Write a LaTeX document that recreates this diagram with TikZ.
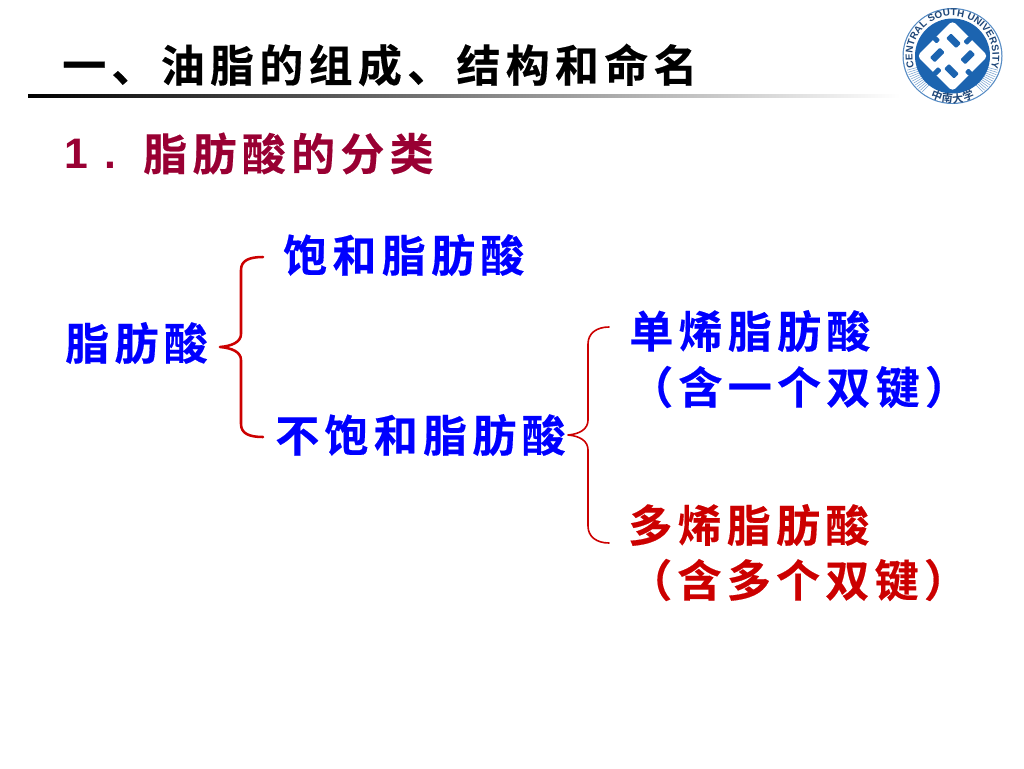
\documentclass[tikz,border=0pt]{standalone}
\usepackage{fontspec}
\usetikzlibrary{decorations.text,shadings}
\newfontfamily\cjkb[LetterSpace=12,FakeBold=0.35]{Noto Sans CJK SC Bold}
\newfontfamily\arialb{Liberation Sans Bold}
\newfontfamily\logof{Liberation Sans Bold}
\newfontfamily\logocjk{Noto Sans CJK SC Bold}
\definecolor{kblue}{RGB}{0,0,255}
\definecolor{kred}{RGB}{204,0,0}
\definecolor{kmaroon}{RGB}{153,0,51}
\definecolor{logoblue}{RGB}{28,100,176}
\definecolor{logoink}{RGB}{30,70,120}
\tikzset{
  x=0.75pt,y=-0.75pt,
  lbl/.style={inner sep=0pt,anchor=west,font=\cjkb\fontsize{33}{38}\selectfont},
  bluelbl/.style={lbl,text=kblue},
  redlbl/.style={lbl,text=kred},
  numlbl/.style={inner sep=0pt,anchor=base west,text=kmaroon,font=\arialb\fontsize{32}{36}\selectfont},
  brace/.style={draw=kred,line cap=round,line join=round},
  hole/.style={fill=logoblue,rounded corners=0.8pt},
}
\begin{document}
\begin{tikzpicture}
\useasboundingbox (0,0) rectangle (1024,768);
\fill[white] (0,0) rectangle (1024,768);
% rule
\shade[left color=black,right color=white] (28,94.5) rectangle (900,97.5);
% texts
\node[lbl,text=black] (title) at (62,65) {一、油脂的组成、结构和命名};
\node[numlbl] (num) at (64,168) {1};
\node[numlbl] (dot) at (104,168) {.};
\node[lbl,text=kmaroon] (sub) at (143,153.5) {脂肪酸的分类};
\node[bluelbl] (fa) at (65,343) {脂肪酸};
\node[bluelbl] (sat) at (283,255) {饱和脂肪酸};
\node[bluelbl] (unsat) at (275,435) {不饱和脂肪酸};
\node[bluelbl] (mono) at (629,331) {单烯脂肪酸};
\node[bluelbl] (monob) at (629,387) {（含一个双键）};
\node[redlbl] (poly) at (628,525) {多烯脂肪酸};
\node[redlbl] (polyb) at (628,580) {（含多个双键）};
% braces
\coordinate (b1tip) at (220,347);
\coordinate (b1top) at (263,257);
\coordinate (b1bot) at (263,437);
\draw[brace,line width=1.9pt] (b1top) .. controls (250,257) and (241,260) .. (241,270) -- (241,334)
  .. controls (241,342) and (232,346) .. (b1tip) .. controls (232,348) and (241,352) .. (241,360)
  -- (241,424) .. controls (241,434) and (250,437) .. (b1bot);
\coordinate (b2tip) at (568,435);
\coordinate (b2top) at (609,327);
\coordinate (b2bot) at (609,543);
\draw[brace,line width=1.2pt] (b2top) .. controls (597,327) and (588,333) .. (588,344) -- (588,420)
  .. controls (588,429) and (580,434) .. (b2tip) .. controls (580,436) and (588,441) .. (588,450)
  -- (588,526) .. controls (588,537) and (597,543) .. (b2bot);
% logo
\begin{scope}[shift={(952.5,56)}]
  \fill[logoblue!75] (0,0) ellipse [x radius=50,y radius=48];
  \fill[white] (0,0) ellipse [x radius=48.8,y radius=46.8];
  \foreach \s in {-1,1}{
    \foreach \a in {18,21,...,52}{
      \draw[logoblue!60,line width=0.4pt] ({\s*cos(\a)*37},{sin(\a)*37}) -- ({\s*cos(\a)*48},{sin(\a)*46});
    }
  }
  \fill[logoblue] (0,0) circle [radius=37.5];
  \path[postaction={decorate},decoration={text along path,text align={fit to path},
     text={|\logof\fontsize{7.4}{8}\selectfont\color{logoink}|CENTRAL SOUTH UNIVERSITY}}]
     (163:40) arc [start angle=163,end angle=377,radius=40];
  \path[postaction={decorate},decoration={text along path,text align={fit to path},
     text={|\logocjk\fontsize{8.2}{9}\selectfont\color{logoink}|中南大学}}]
     (118:47) arc [start angle=118,end angle=62,radius=47];
  % knot
  \begin{scope}[rotate=45]
    \fill[white,rounded corners=3pt] (-25,-25) rectangle (25,25);
    % inner slots, arranged as a pinwheel
    \fill[hole] (-17,-15) rectangle (-3,-8);
    \fill[hole] (8,-17) rectangle (15,-3);
    \fill[hole] (3,8) rectangle (17,15);
    \fill[hole] (-15,3) rectangle (-8,17);
    % notches in the outline
    \fill[hole] (-26,-2.5) rectangle (-18,2.5);
    \fill[hole] (18,-2.5) rectangle (26,2.5);
    \fill[hole] (-2.5,-26) rectangle (2.5,-20);
    \fill[hole] (-2.5,20) rectangle (2.5,26);
  \end{scope}
\end{scope}
\end{tikzpicture}
\end{document}
